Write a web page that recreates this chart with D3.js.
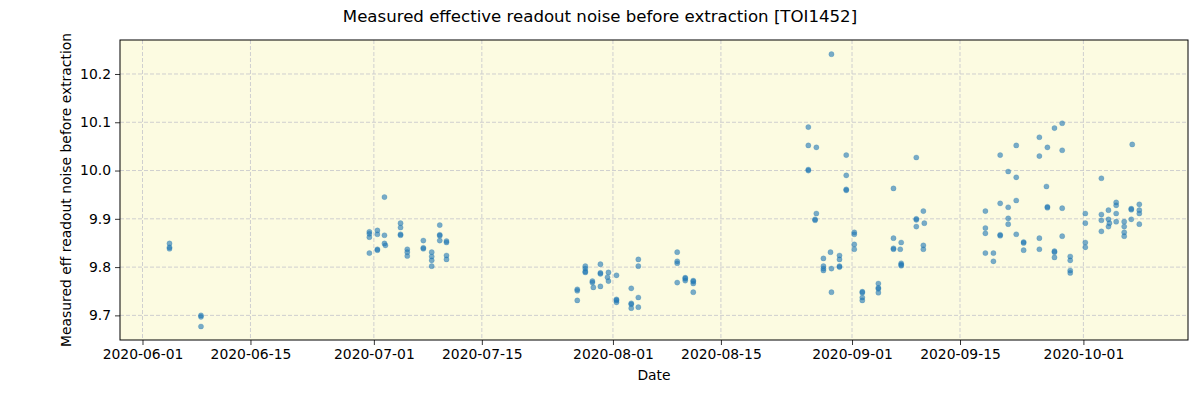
<!DOCTYPE html>
<html>
<head>
<meta charset="utf-8">
<script src="https://cdn.jsdelivr.net/npm/d3@7"></script>
<style>
  body { margin: 0; background: #ffffff; }
  svg { display: block; }
  text { font-family: "DejaVu Sans", sans-serif; fill: #000; }
</style>
</head>
<body>
<svg id="chart" width="1200" height="400"></svg>
<script>
// ---- data ----
const nightDates = [
  "2020-06-04T12:00", "2020-06-08T14:00",
  "2020-06-30T10:00", "2020-07-01T11:00", "2020-07-02T09:00", "2020-07-02T12:00",
  "2020-07-04T11:00", "2020-07-05T08:00", "2020-07-07T10:00", "2020-07-08T12:00",
  "2020-07-09T13:00", "2020-07-10T10:00",
  "2020-07-27T09:00", "2020-07-28T10:00", "2020-07-29T08:00", "2020-07-29T11:00",
  "2020-07-30T09:00", "2020-07-31T07:00", "2020-07-31T10:00", "2020-08-01T11:00",
  "2020-08-03T09:00", "2020-08-04T07:00", "2020-08-09T08:00", "2020-08-10T09:00",
  "2020-08-11T10:00",
  "2020-08-26T08:00", "2020-08-27T05:00", "2020-08-27T09:00", "2020-08-28T07:00",
  "2020-08-29T05:00", "2020-08-29T08:00", "2020-08-30T09:00", "2020-08-31T06:00",
  "2020-09-01T07:00", "2020-09-02T08:00", "2020-09-04T10:00", "2020-09-06T09:00",
  "2020-09-07T06:00", "2020-09-07T09:00", "2020-09-09T08:00", "2020-09-10T06:00",
  "2020-09-10T09:00",
  "2020-09-18T07:00", "2020-09-19T08:00", "2020-09-20T05:00", "2020-09-21T06:00",
  "2020-09-22T07:00", "2020-09-23T06:00", "2020-09-25T07:00", "2020-09-26T05:00",
  "2020-09-26T08:00", "2020-09-27T06:00", "2020-09-28T06:00", "2020-09-29T07:00",
  "2020-10-01T06:00", "2020-10-03T08:00", "2020-10-04T06:00", "2020-10-04T09:00",
  "2020-10-05T06:00", "2020-10-06T07:00", "2020-10-07T05:00", "2020-10-07T08:00",
  "2020-10-08T06:00"
];
const nightValues = [
  [9.849, 9.841, 9.838], [9.700, 9.697, 9.677],
  [9.873, 9.869, 9.862, 9.829], [9.876, 9.868, 9.837, 9.835], [9.945, 9.866, 9.849], [9.845],
  [9.891, 9.882, 9.868, 9.866], [9.837, 9.831, 9.823], [9.855, 9.840, 9.838], [9.831, 9.822, 9.814, 9.802],
  [9.887, 9.867, 9.865, 9.855], [9.854, 9.851, 9.824, 9.816],
  [9.754, 9.751, 9.731], [9.802, 9.797, 9.791, 9.789], [9.771, 9.768], [9.758],
  [9.806, 9.788, 9.786, 9.760], [9.779], [9.789, 9.771], [9.783, 9.733, 9.731, 9.727],
  [9.756, 9.725, 9.723, 9.715], [9.816, 9.802, 9.737, 9.717], [9.831, 9.812, 9.808, 9.768], [9.778, 9.776, 9.772],
  [9.772, 9.770, 9.766, 9.748],
  [10.090, 10.052, 10.002, 10.000], [9.899, 9.897], [10.048, 9.911], [9.818, 9.802, 9.797, 9.793],
  [9.831], [10.241, 9.797, 9.748], [9.824, 9.816, 9.802, 9.800], [10.032, 9.990, 9.961, 9.959],
  [9.872, 9.868, 9.847, 9.837], [9.749, 9.747, 9.737, 9.731], [9.766, 9.757, 9.755, 9.747], [9.963, 9.860, 9.839, 9.837],
  [9.837], [9.851, 9.808, 9.805, 9.803], [10.027, 9.900, 9.898, 9.884], [9.916, 9.845, 9.837],
  [9.891],
  [9.916, 9.881, 9.870, 9.829], [9.829, 9.812], [10.032, 9.932, 9.867, 9.865], [9.998, 9.924, 9.901, 9.889],
  [10.052, 9.986, 9.938, 9.868], [9.852, 9.850, 9.835], [10.069, 10.030, 9.860, 9.837], [9.967],
  [10.048, 9.925, 9.923], [10.088, 9.833, 9.831, 9.820], [10.098, 10.042, 9.922, 9.864], [9.822, 9.814, 9.793, 9.788],
  [9.911, 9.891, 9.851, 9.841], [9.984, 9.909, 9.897, 9.874], [9.918, 9.899, 9.884], [9.891],
  [9.934, 9.928, 9.911, 9.894], [9.894, 9.884, 9.872, 9.864], [9.921, 9.919, 9.899], [10.054],
  [9.930, 9.918, 9.911, 9.889]
];
const xTickDates = ["2020-06-01", "2020-06-15", "2020-07-01", "2020-07-15", "2020-08-01",
                    "2020-08-15", "2020-09-01", "2020-09-15", "2020-10-01"];
const yTickValues = [9.7, 9.8, 9.9, 10.0, 10.1, 10.2];
const xDomain = ["2020-05-29T02:00", "2020-10-14T13:30"];
const yDomain = [9.649, 10.2704];

const titleText = "Measured effective readout noise before extraction [TOI1452]";
const xLabel = "Date";
const yLabel = "Measured eff readout noise before extraction";

// ---- drawing ----
const parseT = d3.timeParse("%Y-%m-%dT%H:%M");
const parseD = d3.timeParse("%Y-%m-%d");
const fmtD = d3.timeFormat("%Y-%m-%d");

const margin = {left: 120, right: 12, top: 40, bottom: 60};
const W = 1200, H = 400;
const iw = W - margin.left - margin.right;
const ih = H - margin.top - margin.bottom;

const svg = d3.select("#chart");
const g = svg.append("g").attr("transform", `translate(${margin.left},${margin.top})`);

const x = d3.scaleTime().domain(xDomain.map(parseT)).range([0, iw]);
const y = d3.scaleLinear().domain(yDomain).range([ih, 0]);

g.append("rect").attr("width", iw).attr("height", ih).attr("fill", "#fcfbe1");

const xt = xTickDates.map(parseD);

// grid
g.append("g").selectAll("line").data(xt).join("line")
  .attr("x1", d => x(d)).attr("x2", d => x(d)).attr("y1", 0).attr("y2", ih)
  .attr("stroke", "#cfcfcf").attr("stroke-width", 1).attr("stroke-dasharray", "4,2");
g.append("g").selectAll("line").data(yTickValues).join("line")
  .attr("x1", 0).attr("x2", iw).attr("y1", d => y(d)).attr("y2", d => y(d))
  .attr("stroke", "#cfcfcf").attr("stroke-width", 1).attr("stroke-dasharray", "4,2");

// points
const points = nightDates.flatMap((d, i) => nightValues[i].map(v => ({t: parseT(d), v})));
g.append("g").selectAll("circle").data(points).join("circle")
  .attr("cx", d => x(d.t)).attr("cy", d => y(d.v)).attr("r", 2.6)
  .attr("fill", "#1f77b4").attr("fill-opacity", 0.6)
  .attr("stroke", "#1f77b4").attr("stroke-opacity", 0.35).attr("stroke-width", 0.6);

// axes
const xAxis = d3.axisBottom(x).tickValues(xt).tickFormat(fmtD).tickSize(5).tickPadding(4);
const yAxis = d3.axisLeft(y).tickValues(yTickValues).tickFormat(d3.format(".1f")).tickSize(5).tickPadding(4);

const gx = g.append("g").attr("transform", `translate(0,${ih})`).call(xAxis);
const gy = g.append("g").call(yAxis);
[gx, gy].forEach(a => {
  a.select(".domain").remove();
  a.selectAll("line").attr("stroke", "#000").attr("stroke-width", 0.8);
  a.selectAll("text").style("font-family", "DejaVu Sans, sans-serif").style("font-size", "13.9px").attr("fill", "#000");
});

// frame
g.append("rect").attr("width", iw).attr("height", ih).attr("fill", "none")
  .attr("stroke", "#000").attr("stroke-width", 1);

// labels
svg.append("text").attr("x", 600).attr("y", 22).attr("text-anchor", "middle")
  .style("font-size", "16.6px").text(titleText);
svg.append("text").attr("x", margin.left + iw / 2).attr("y", 380).attr("text-anchor", "middle")
  .style("font-size", "13.9px").text(xLabel);
svg.append("text").attr("transform", `translate(71,${margin.top + ih / 2}) rotate(-90)`)
  .attr("text-anchor", "middle").style("font-size", "13.9px").text(yLabel);
</script>
</body>
</html>
